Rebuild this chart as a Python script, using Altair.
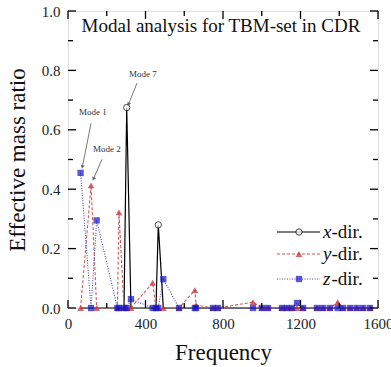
import altair as alt
import pandas as pd

# ---- data ----
freqs = [65, 119, 148, 255, 263, 289, 303, 325, 437, 454, 466, 492, 573,
         655, 661, 748, 774, 955, 1001, 1032, 1104, 1130, 1156, 1182, 1213,
         1285, 1316, 1352, 1392, 1419, 1456, 1490, 1523, 1559]
x_dir = [0, 0, 0, 0, 0, 0, 0.675, 0, 0, 0, 0.28, 0, 0,
         0, 0, 0, 0, 0, 0, 0, 0, 0, 0, 0, 0,
         0, 0, 0, 0, 0, 0, 0, 0, 0]
y_dir = [0, 0.413, 0, 0, 0.322, 0, 0, 0, 0.085, 0, 0, 0, 0,
         0.06, 0.01, 0, 0, 0.02, 0, 0, 0, 0, 0, 0, 0,
         0, 0, 0, 0.02, 0, 0, 0, 0, 0]
z_dir = [0.455, 0, 0.295, 0, 0, 0, 0, 0.03, 0, 0, 0, 0.097, 0,
         0, 0, 0, 0, 0, 0, 0, 0, 0, 0, 0.017, 0,
         0, 0, 0, 0, 0, 0, 0, 0, 0]

x_ticks = [0, 400, 800, 1200, 1600]
x_minor = [200, 600, 1000, 1400]
y_ticks = [0.0, 0.2, 0.4, 0.6, 0.8, 1.0]
y_minor = [0.1, 0.3, 0.5, 0.7, 0.9]

title_text = "Modal analysis for TBM-set in CDR"
ann_labels = ["Mode 1", "Mode 2", "Mode 7"]
ann_text_x = [129, 201, 387]
ann_text_y = [0.659, 0.537, 0.787]
ann_from_x = [119, 175, 356]
ann_from_y = [0.622, 0.500, 0.757]
ann_to_x = [74, 131, 312]
ann_to_y = [0.475, 0.434, 0.686]
ann_angle = [192, 204, 204]

W, H = 310, 297
FONT = "Liberation Serif"

df = pd.DataFrame({"f": freqs, "x": x_dir, "y": y_dir, "z": z_dir})

xs = alt.Scale(domain=[0, 1600], nice=False)
ys = alt.Scale(domain=[0, 1], nice=False)

XAXIS = alt.Axis(values=x_ticks, format="d", title="Frequency", ticks=False,
                 domain=False, grid=False, labelPadding=8, titlePadding=10,
                 labelFlush=False, labelFont=FONT, labelFontSize=15, labelColor="#222",
                 titleFont=FONT, titleFontSize=23, titleFontWeight="normal",
                 titleColor="#111")
YAXIS = alt.Axis(values=y_ticks, format=".1f", title="Effective mass ratio",
                 ticks=False, domain=False, grid=False, labelPadding=8,
                 titlePadding=12, labelFont=FONT, labelFontSize=15, labelColor="#222",
                 titleFont=FONT, titleFontSize=23, titleFontWeight="normal",
                 titleColor="#111")


def xq(field):
    return alt.X(f"{field}:Q", scale=xs, axis=XAXIS)


def yq(field):
    return alt.Y(f"{field}:Q", scale=ys, axis=YAXIS)


base = alt.Chart(df)

line_x = base.mark_line(color="black", strokeWidth=1.2).encode(x=xq("f"), y=yq("x"))
line_y = base.mark_line(color="#d05a5a", strokeWidth=1.1, strokeDash=[3, 2]).encode(x=xq("f"), y=yq("y"))
line_z = base.mark_line(color="#4848c0", strokeWidth=1.1, strokeDash=[1, 1.5]).encode(x=xq("f"), y=yq("z"))

pt_x = base.transform_filter("datum.x > 0").mark_point(
    shape="circle", size=40, filled=True, fill="white", stroke="black",
    strokeWidth=1).encode(x=xq("f"), y=yq("x"))
pt_y = base.mark_point(shape="triangle-up", size=45, filled=True, color="#c8282d").encode(x=xq("f"), y=yq("y"))
pt_z = base.mark_point(shape="square", size=40, filled=True, color="#1414c8").encode(x=xq("f"), y=yq("z"))

# ---- inward ticks on all four sides ----
tx = pd.DataFrame({"v": x_ticks + x_minor, "len": [8] * len(x_ticks) + [5] * len(x_minor)})
ty = pd.DataFrame({"v": y_ticks + y_minor, "len": [8] * len(y_ticks) + [5] * len(y_minor)})

tb = alt.Chart(tx).transform_calculate(y0=f"{H}", y1=f"{H} - datum.len").mark_rule(
    color="black", strokeWidth=1.3).encode(
    x=xq("v"), y=alt.Y("y0:Q", scale=None), y2="y1:Q")
tt = alt.Chart(tx).transform_calculate(y0="0", y1="datum.len").mark_rule(
    color="black", strokeWidth=1.3).encode(
    x=xq("v"), y=alt.Y("y0:Q", scale=None), y2="y1:Q")
tl = alt.Chart(ty).transform_calculate(x0="0", x1="datum.len").mark_rule(
    color="black", strokeWidth=1.3).encode(
    y=yq("v"), x=alt.X("x0:Q", scale=None), x2="x1:Q")
tr = alt.Chart(ty).transform_calculate(x0=f"{W}", x1=f"{W} - datum.len").mark_rule(
    color="black", strokeWidth=1.3).encode(
    y=yq("v"), x=alt.X("x0:Q", scale=None), x2="x1:Q")

# ---- title inside plot ----
title = alt.Chart(pd.DataFrame({"t": [title_text]})).mark_text(
    font=FONT, fontSize=19, color="#111", align="center", baseline="middle").encode(
    x=alt.value(W / 2 - 2), y=alt.value(15), text="t:N")

# ---- annotations ----
ann = pd.DataFrame({"label": ann_labels, "tx": ann_text_x, "ty": ann_text_y,
                    "fx": ann_from_x, "fy": ann_from_y, "ex": ann_to_x, "ey": ann_to_y,
                    "ang": ann_angle})
ann_text = alt.Chart(ann).mark_text(font=FONT, fontSize=9, color="#333", align="center",
                                    baseline="middle").encode(
    x=xq("tx"), y=yq("ty"), text="label:N")
ann_line = alt.Chart(ann).mark_rule(color="#555", strokeWidth=0.8).encode(
    x=xq("fx"), y=yq("fy"), x2="ex:Q", y2="ey:Q")
ann_head = alt.Chart(ann).mark_point(shape="triangle-up", filled=True, color="#444", size=18).encode(
    x=xq("ex"), y=yq("ey"), angle=alt.Angle("ang:Q", scale=None))

# ---- manual legend ----
leg = pd.DataFrame({
    "letter": ["x", "y", "z"],
    "rest": ["-dir.", "-dir.", "-dir."],
    "yy": [221, 243, 268],
})
LX0, LX1, LM, LT = 209, 252, 231, 255
one = pd.DataFrame({"a": [0]})
leg_x_line = alt.Chart(one).mark_rule(color="black", strokeWidth=1.2).encode(
    x=alt.value(LX0), x2=alt.value(LX1), y=alt.value(221))
leg_y_line = alt.Chart(one).mark_rule(color="#d05a5a", strokeWidth=1.1, strokeDash=[3, 2]).encode(
    x=alt.value(LX0), x2=alt.value(LX1), y=alt.value(243))
leg_z_line = alt.Chart(one).mark_rule(color="#4848c0", strokeWidth=1.1, strokeDash=[1, 1.5]).encode(
    x=alt.value(LX0), x2=alt.value(LX1), y=alt.value(268))
leg_x_pt = alt.Chart(one).mark_point(shape="circle", size=40, filled=True, fill="white",
                                     stroke="black", strokeWidth=1).encode(
    x=alt.value(LM), y=alt.value(221))
leg_y_pt = alt.Chart(one).mark_point(shape="triangle-up", size=45, filled=True,
                                     color="#c8282d").encode(x=alt.value(LM), y=alt.value(243))
leg_z_pt = alt.Chart(one).mark_point(shape="square", size=40, filled=True,
                                     color="#1414c8").encode(x=alt.value(LM), y=alt.value(268))
leg_letter = alt.Chart(leg).mark_text(font=FONT, fontSize=19, fontStyle="italic", color="#111",
                                      align="left", baseline="middle").encode(
    x=alt.value(LT), y=alt.Y("yy:Q", scale=None), text="letter:N")
leg_rest = alt.Chart(leg).mark_text(font=FONT, fontSize=19, color="#111", align="left",
                                    baseline="middle").encode(
    x=alt.value(LT + 8.5), y=alt.Y("yy:Q", scale=None), text="rest:N")

chart = alt.layer(
    line_x, line_y, line_z, pt_x, pt_y, pt_z,
    tb, tt, tl, tr, title, ann_line, ann_head, ann_text,
    leg_x_line, leg_y_line, leg_z_line, leg_x_pt, leg_y_pt, leg_z_pt, leg_letter, leg_rest,
).properties(
    width=W, height=H,
    autosize=alt.AutoSizeParams(type="none"),
    padding={"left": 68, "top": 11, "right": 13, "bottom": 59},
).configure_view(stroke="black", strokeWidth=1.5).configure(
    background="white"
).configure_axis(
    labelFont=FONT, labelFontSize=15, labelColor="#222",
    titleFont=FONT, titleFontSize=23, titleFontWeight="normal", titleColor="#111",
)

chart.save("out.html", embed_options={"renderer": "svg", "actions": False})
